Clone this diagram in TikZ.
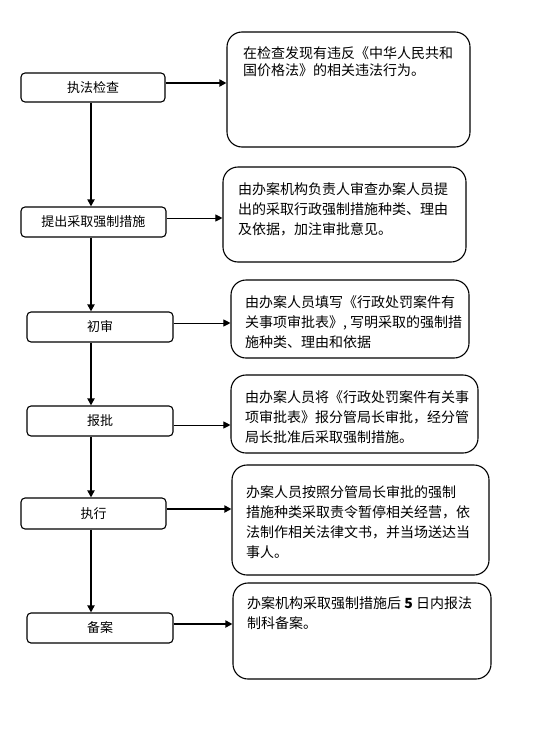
\documentclass[tikz,border=0pt]{standalone}
\usepackage{fontspec}
\setmainfont{Noto Sans CJK SC}
\usetikzlibrary{arrows.meta}

\begin{document}
\begin{tikzpicture}[x=1pt,y=-1pt,
        stepbox/.style={draw, line width=1.1pt, rounded corners=4pt, minimum height=30pt, inner sep=0pt, font=\fontsize{13}{15}\selectfont},
        notebox/.style={draw, line width=1.1pt, rounded corners=15pt, inner sep=0pt},
        note/.style={inner sep=0pt, anchor=north west, align=left, font=\fontsize{14}{20}\selectfont},
        flow/.style={-{Triangle[length=7pt,width=7pt]}, line width=1.8pt},
        thinflow/.style={-{Triangle[length=7pt,width=7pt]}, line width=0.9pt}]
    \useasboundingbox (0,0) rectangle (552,739);
    \coordinate (spine) at (91,0);

    % steps on the left
    \node[stepbox, minimum width=144pt, minimum height=29pt] (jiancha) at (93,87.5) {执法检查};
    \node[stepbox, minimum width=145pt] (tichu) at (93.5,222) {提出采取强制措施};
    \node[stepbox, minimum width=146pt] (chushen) at (100,327) {初审};
    \node[stepbox, minimum width=146pt] (baopi) at (100,421) {报批};
    \node[stepbox, minimum width=145pt, minimum height=31pt] (zhixing) at (93.5,513.5) {执行};
    \node[stepbox, minimum width=146pt] (beian) at (100,628) {备案};

    % notes on the right
    \node[notebox, minimum width=243pt, minimum height=115pt] (n1) at (348.5,89.5) {};
    \node[note, font=\fontsize{14}{17}\selectfont] (t1) at (243,46.5)
        {在检查发现有违反《中华人民共和\\国价格法》的相关违法行为。};
    \node[notebox, minimum width=243pt, minimum height=95pt] (n2) at (344.5,214.5) {};
    \node[note] (t2) at (238,182.5)
        {由办案机构负责人审查办案人员提\\出的采取行政强制措施种类、理由\\及依据，加注审批意见。};
    \node[notebox, minimum width=238pt, minimum height=78pt] (n3) at (350,319) {};
    \node[note] (t3) at (245,295.5)
        {由办案人员填写《行政处罚案件有\\关事项审批表》, 写明采取的强制措\\施种类、理由和依据};
    \node[notebox, minimum width=247pt, minimum height=78pt] (n4) at (354.5,414) {};
    \node[note] (t4) at (245,390.5)
        {由办案人员将《行政处罚案件有关事\\项审批表》报分管局长审批，经分管\\局长批准后采取强制措施。};
    \node[notebox, minimum width=257pt, minimum height=110pt] (n5) at (360.5,520) {};
    \node[note] (t5) at (246,485.5)
        {办案人员按照分管局长审批的强制\\措施种类采取责令暂停相关经营，依\\法制作相关法律文书，并当场送达当\\事人。};
    \node[notebox, minimum width=258pt, minimum height=96pt] (n6) at (362,631) {};
    \node[note] (t6) at (247,596.5)
        {办案机构采取强制措施后 \textbf{5} 日内报法\\制科备案。};

    % down the left
    \draw[flow] (jiancha.south -| spine) -- (tichu.north -| spine);
    \draw[flow] (tichu.south -| spine) -- (chushen.north -| spine);
    \draw[flow] (chushen.south -| spine) -- (baopi.north -| spine);
    \draw[flow] (baopi.south -| spine) -- (zhixing.north -| spine);
    \draw[flow] (zhixing.south -| spine) -- (beian.north -| spine);

    % across to the notes
    \draw[flow] ([yshift=4.5pt]jiancha.east) -- ([yshift=4.5pt]jiancha.east -| n1.west);
    \draw[thinflow] ([yshift=4pt]tichu.east) -- ([yshift=4pt]tichu.east -| n2.west);
    \draw[thinflow] ([yshift=4pt]chushen.east) -- ([yshift=4pt]chushen.east -| n3.west);
    \draw[thinflow] ([yshift=-4pt]baopi.east) -- ([yshift=-4pt]baopi.east -| n4.west);
    \draw[flow] ([yshift=4.5pt]zhixing.east) -- ([yshift=4.5pt]zhixing.east -| n5.west);
    \draw[flow] ([yshift=4pt]beian.east) -- ([yshift=4pt]beian.east -| n6.west);
\end{tikzpicture}
\end{document}
